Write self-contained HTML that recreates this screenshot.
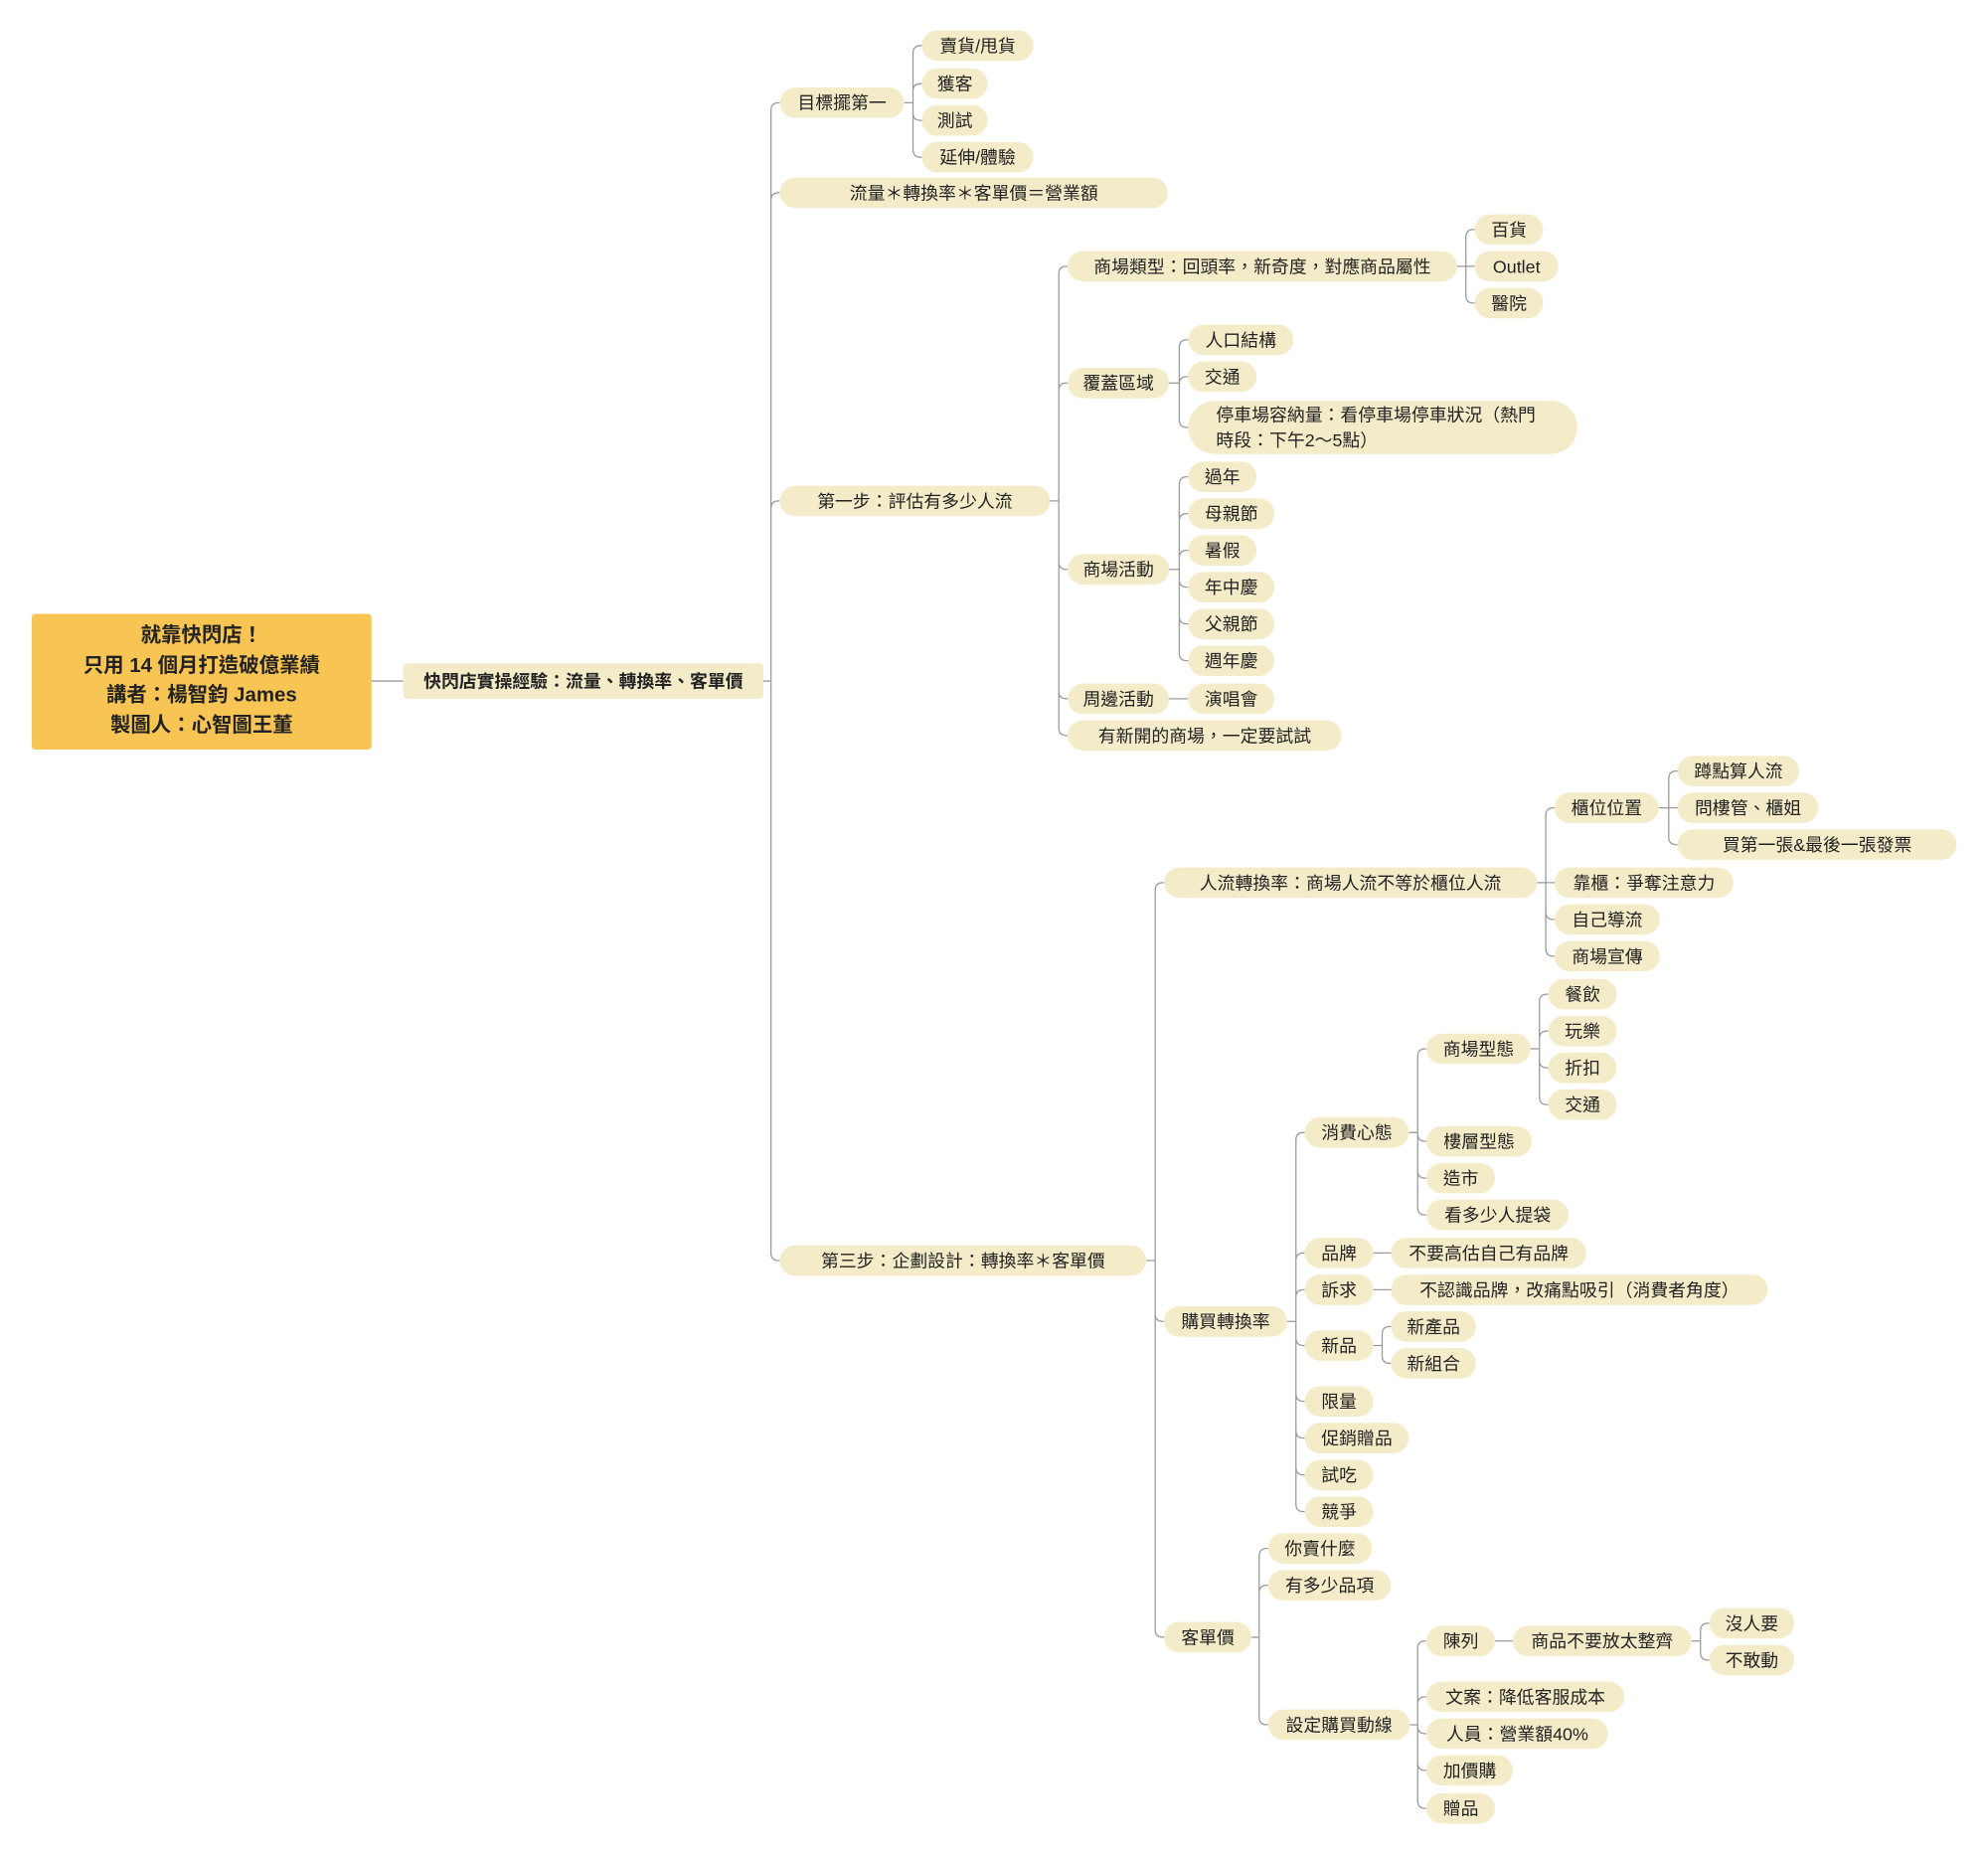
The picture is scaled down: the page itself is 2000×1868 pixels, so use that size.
<!DOCTYPE html>
<html><head><meta charset="utf-8">
<style>
html,body{margin:0;padding:0;background:#fff;width:2000px;height:1867px;overflow:hidden}
#w{position:absolute;left:0;top:0;width:1568px;height:1464px;transform:scale(1.2757);transform-origin:0 0;font-family:"Liberation Sans","Noto Sans CJK TC",sans-serif}
.n{position:absolute;height:24px;line-height:24px;background:#f4ecc9;border-radius:12px;font-size:14px;color:#222;text-align:center;white-space:nowrap;box-sizing:border-box}
svg{position:absolute;left:0;top:0}
</style></head><body>
<div id="w">
<svg id="s" width="1568" height="1464"></svg>
<div class="n" style="left:25px;top:484px;width:268px;height:107px;border-radius:3px;background:#f8c453;font-weight:bold;font-size:16px;line-height:23.5px;padding-top:6px">就靠快閃店！<br>只用 14 個月打造破億業績<br>講者：楊智鈞 James<br>製圖人：心智圖王董</div>
<div class="n" style="left:318px;top:523px;width:284px;height:28px;line-height:28px;border-radius:3px;font-weight:bold">快閃店實操經驗：流量、轉換率、客單價</div>
</div>
<script>
var W=document.getElementById('w'),S=document.getElementById('s'),P='';
function N(t,l,r,cy,kids,h){return {t:t,l:l,r:r,cy:cy,k:kids||[],h:h};}
var tree=[
N('目標擺第一',615,713,81,[N('賣貨/甩貨',727,815,36),N('獲客',727,779,66),N('測試',727,779,95),N('延伸/體驗',727,815,124)]),
N('流量＊轉換率＊客單價＝營業額',615,921,152),
N('第一步：評估有多少人流',615,828,395,[
 N('商場類型：回頭率，新奇度，對應商品屬性',842,1149,210,[N('百貨',1163,1217,181),N('Outlet',1163,1229,210),N('醫院',1163,1217,239)]),
 N('覆蓋區域',842,922,302,[N('人口結構',937,1020,268),N('交通',937,991,297),N('停車場容納量：看停車場停車狀況（熱門<br>時段：下午2～5點）',937,1244,337,null,42)]),
 N('商場活動',842,922,449,[N('過年',937,991,376),N('母親節',937,1005,405),N('暑假',937,991,434),N('年中慶',937,1005,463),N('父親節',937,1005,492),N('週年慶',937,1005,521)]),
 N('周邊活動',842,922,551,[N('演唱會',937,1005,551)]),
 N('有新開的商場，一定要試試',842,1058,580)]),
N('第三步：企劃設計：轉換率＊客單價',615,904,994,[
 N('人流轉換率：商場人流不等於櫃位人流',918,1212,696,[
  N('櫃位位置',1226,1308,637,[N('蹲點算人流',1323,1419,608),N('問樓管、櫃姐',1323,1434,637),N('買第一張&amp;最後一張發票',1323,1543,666)]),
  N('靠櫃：爭奪注意力',1226,1367,696),N('自己導流',1226,1309,725),N('商場宣傳',1226,1309,754)]),
 N('購買轉換率',918,1015,1042,[
  N('消費心態',1029,1111,893,[
   N('商場型態',1125,1207,827,[N('餐飲',1221,1275,784),N('玩樂',1221,1275,813),N('折扣',1221,1275,842),N('交通',1221,1275,871)]),
   N('樓層型態',1125,1208,900),N('造市',1125,1179,929),N('看多少人提袋',1125,1237,958)]),
  N('品牌',1029,1083,988,[N('不要高估自己有品牌',1097,1251,988)]),
  N('訴求',1029,1083,1017,[N('不認識品牌，改痛點吸引（消費者角度）',1097,1394,1017)]),
  N('新品',1029,1083,1061,[N('新產品',1097,1164,1046),N('新組合',1097,1164,1075)]),
  N('限量',1029,1083,1105),N('促銷贈品',1029,1111,1134),N('試吃',1029,1083,1163),N('競爭',1029,1083,1192)]),
 N('客單價',918,987,1291,[
  N('你賣什麼',1000,1082,1221),N('有多少品項',1000,1097,1250),
  N('設定購買動線',1000,1112,1360,[
   N('陳列',1125,1179,1294,[N('商品不要放太整齊',1193,1334,1294,[N('沒人要',1348,1415,1280),N('不敢動',1348,1415,1309)])]),
   N('文案：降低客服成本',1125,1281,1338),N('人員：營業額40%',1125,1268,1367),N('加價購',1125,1193,1396),N('贈品',1125,1179,1426)])])])
];
function edges(pr,pcy,kids){
 var vx=kids[0].l-7;
 kids.forEach(function(c){
  if(Math.abs(c.cy-pcy)<2){P+='M'+pr+' '+pcy+'H'+c.l;return;}
  var s=c.cy>pcy?1:-1;
  P+='M'+pr+' '+pcy+'H'+vx+'V'+(c.cy-s*6)+'Q'+vx+' '+c.cy+' '+(vx+6)+' '+c.cy+'H'+c.l;
 });
}
function draw(n){
 var h=n.h||24,d=document.createElement('div');d.className='n';
 d.style.cssText='left:'+n.l+'px;top:'+(n.cy-h/2)+'px;width:'+(n.r-n.l)+'px;height:'+h+'px;'+(n.h?'line-height:20px;text-align:left;padding:1px 0 0 22px;border-radius:21px':'');
 d.innerHTML=n.t;W.appendChild(d);
 if(n.k.length){edges(n.r,n.cy,n.k);n.k.forEach(draw);}
}
P+='M293 537H318';
edges(602,537,tree);
tree.forEach(draw);
S.innerHTML='<path d="'+P+'" fill="none" stroke="#9a9a9a" stroke-width="1"/>';
</script>
</body></html>
